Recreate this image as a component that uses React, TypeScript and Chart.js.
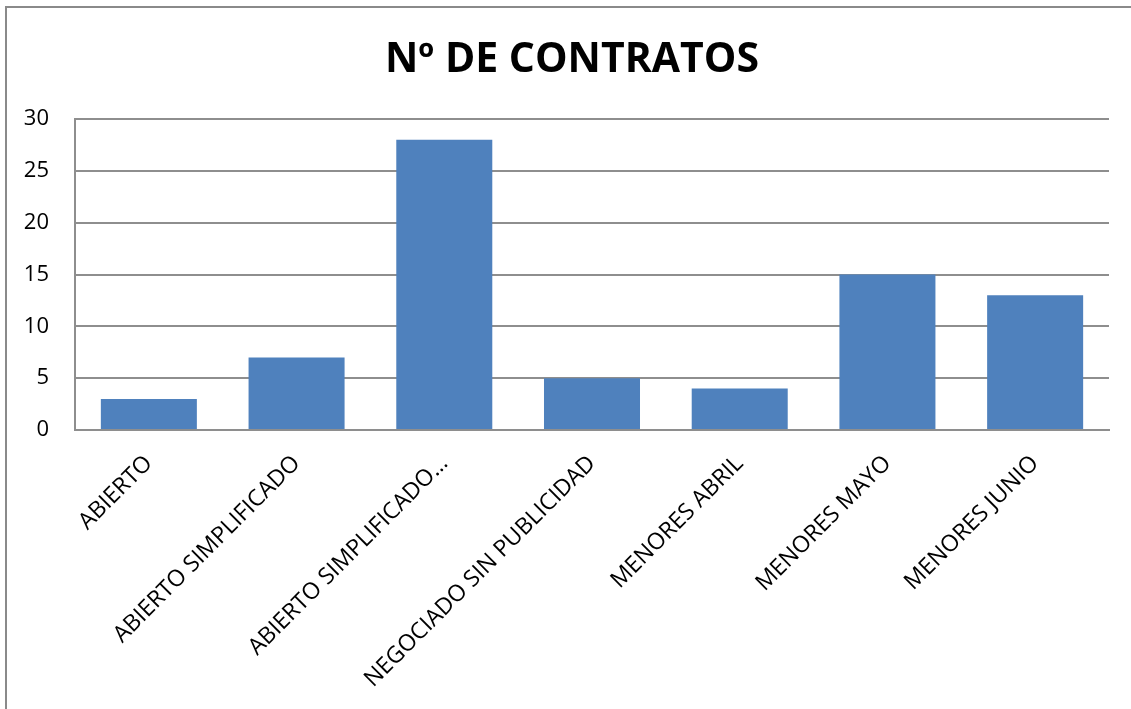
import React, { useEffect, useRef } from "react";
import { Chart, registerables } from "chart.js";

Chart.register(...registerables);

const categories = [
  "ABIERTO",
  "ABIERTO SIMPLIFICADO",
  "ABIERTO SIMPLIFICADO…",
  "NEGOCIADO SIN PUBLICIDAD",
  "MENORES ABRIL",
  "MENORES MAYO",
  "MENORES JUNIO",
];
const contratos = [3, 7, 28, 5, 4, 15, 13];
const chartTitle = "Nº DE CONTRATOS";
const yMin = 0;
const yMax = 30;
const yStep = 5;

const FONT = "'Open Sans', 'DejaVu Sans', sans-serif";
const GRID = "#8e8e8e";

const titlePlugin = {
  id: "centeredTitle",
  afterDraw(chart: any) {
    const ctx = chart.ctx;
    ctx.save();
    ctx.font = `bold 41px ${FONT}`;
    ctx.fillStyle = "#000";
    ctx.textAlign = "center";
    ctx.textBaseline = "middle";
    ctx.fillText(chartTitle, 572, 60.6);
    ctx.restore();
  },
};

export default function App() {
  const ref = useRef<HTMLCanvasElement | null>(null);

  useEffect(() => {
    if (!ref.current) return;
    const chart = new Chart(ref.current, {
      type: "bar",
      data: {
        labels: categories,
        datasets: [
          {
            label: chartTitle,
            data: contratos,
            backgroundColor: "#4F81BD",
            borderWidth: 0,
            barPercentage: 0.65,
            categoryPercentage: 1,
          },
        ],
      },
      plugins: [titlePlugin],
      options: {
        responsive: false,
        animation: false,
        devicePixelRatio: 1,
        layout: { padding: { left: 0, right: 22, top: 119, bottom: 0 } },
        plugins: {
          legend: { display: false },
          tooltip: { enabled: false },
          title: { display: false },
        },
        scales: {
          x: {
            grid: { display: false, drawTicks: false },
            border: { display: true, color: GRID, width: 2 },
            ticks: {
              color: "#000",
              font: { family: FONT, size: 23 },
              minRotation: 45,
              maxRotation: 45,
              autoSkip: false,
              padding: 20,
            },
            afterFit: (s: any) => {
              s.height = 279;
            },
          },
          y: {
            min: yMin,
            max: yMax,
            grid: { color: GRID, lineWidth: 2, drawTicks: false },
            border: { display: true, color: GRID, width: 2 },
            ticks: {
              stepSize: yStep,
              color: "#000",
              font: { family: FONT, size: 22 },
              padding: 26,
            },
            afterFit: (s: any) => {
              s.width = 75;
            },
          },
        },
      },
    });
    return () => chart.destroy();
  }, []);

  return (
    <div
      style={{
        position: "fixed",
        left: 0,
        top: 0,
        width: 1131,
        height: 709,
        overflow: "hidden",
        background: "#fff",
      }}
    >
      <canvas ref={ref} width={1131} height={709} style={{ position: "absolute", left: 0, top: 0 }} />
      <div
        style={{
          position: "absolute",
          left: 5,
          top: 6,
          width: 1300,
          height: 900,
          border: "2px solid #8a8a8a",
          pointerEvents: "none",
        }}
      />
    </div>
  );
}
